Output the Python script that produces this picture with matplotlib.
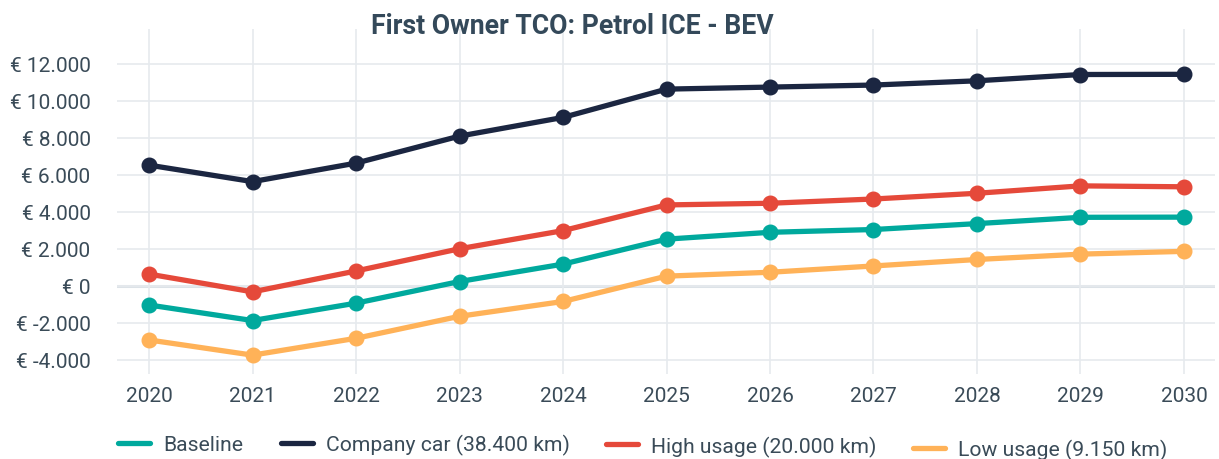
import matplotlib
matplotlib.use("Agg")
import matplotlib.pyplot as plt
from matplotlib.ticker import FuncFormatter, FixedLocator
from matplotlib.lines import Line2D

plt.rcParams['font.family'] = ['Roboto', 'DejaVu Sans']

years = [2020, 2021, 2022, 2023, 2024, 2025, 2026, 2027, 2028, 2029, 2030]
baseline = [-1040, -1880, -940, 230, 1170, 2520, 2890, 3040, 3360, 3700, 3710]
company_car = [6520, 5630, 6630, 8090, 9100, 10630, 10740, 10850, 11080, 11420, 11430]
high_usage = [630, -330, 800, 2000, 2980, 4370, 4460, 4690, 5000, 5400, 5350]
low_usage = [-2930, -3750, -2840, -1650, -850, 520, 730, 1070, 1420, 1710, 1860]
y_ticks = [-4000, -2000, 0, 2000, 4000, 6000, 8000, 10000, 12000]

series = [
    ("Baseline", baseline, "#00A99D"),
    ("Company car (38.400 km)", company_car, "#1B2641"),
    ("High usage (20.000 km)", high_usage, "#E5493A"),
    ("Low usage (9.150 km)", low_usage, "#FFB258"),
]

W, H = 1219, 460
fig = plt.figure(figsize=(W / 100, H / 100), dpi=100)
ax = fig.add_axes([117 / W, 1 - 375 / H, (1215 - 117) / W, (375 - 30) / H])

text_color = "#3A4B58"
for name, vals, col in series:
    ax.plot(years, vals, color=col, lw=3.8, marker="o", ms=10.5,
            solid_capstyle="round", zorder=3)

ax.set_xlim(2019.69, 2030.3)
ax.set_ylim(-4770, 13880)
ax.xaxis.set_major_locator(FixedLocator(years))
ax.yaxis.set_major_locator(FixedLocator(y_ticks))

def euro(v, pos):
    s = f"{abs(int(round(v))):,}".replace(",", ".")
    return f"€ -{s}" if v < 0 else f"€ {s}"

ax.yaxis.set_major_formatter(FuncFormatter(euro))
ax.grid(True, color="#E6EAEE", lw=1.2, zorder=0)
ax.axhline(0, color="#DCE2E7", lw=2.2, zorder=1)
for sp in ax.spines.values():
    sp.set_visible(False)
ax.tick_params(axis="both", length=0, labelsize=15, colors=text_color)
ax.tick_params(axis="y", pad=19)
ax.tick_params(axis="x", pad=9)

fig.text(572 / W, 1 - 33.5 / H, "First Owner TCO: Petrol ICE - BEV",
         ha="center", va="baseline", fontsize=19.2, fontweight="bold", color="#34495A")

# legend entries positioned like the reference
leg_pos = [(118, 445.5), (281, 445.5), (606, 447), (913, 450.5)]
for (name, vals, col), (lx, ly) in zip(series, leg_pos):
    h = Line2D([], [], color=col, lw=3.8, solid_capstyle="round")
    lg = fig.legend(handles=[h], labels=[name], loc="center left",
                    bbox_to_anchor=(lx / W, 1 - ly / H), frameon=False,
                    fontsize=15.2, handlelength=1.5, handletextpad=0.62,
                    borderpad=0, borderaxespad=0)
    for t in lg.get_texts():
        t.set_color(text_color)

fig.savefig("out.png", dpi=100)
